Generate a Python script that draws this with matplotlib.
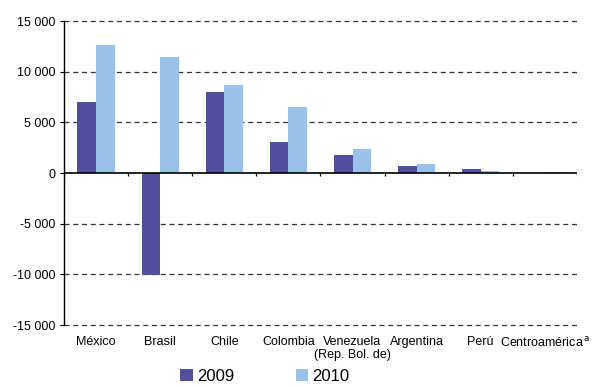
import matplotlib
matplotlib.use("Agg")
import matplotlib.pyplot as plt
import numpy as np

plt.rcParams['font.family'] = ['Liberation Sans', 'DejaVu Sans']

categories = ["México", "Brasil", "Chile", "Colombia", "Venezuela\n(Rep. Bol. de)",
              "Argentina", "Perú", "Centroamérica$^{\\,\\mathrm{a}}$"]
values_2009 = [7000, -10100, 8000, 3050, 1780, 690, 400, 20]
values_2010 = [12650, 11450, 8680, 6500, 2370, 890, 200, 100]
yticks = [-15000, -10000, -5000, 0, 5000, 10000, 15000]
ytick_labels = ["-15 000", "-10 000", "-5 000", "0", "5 000", "10 000", "15 000"]

color_2009 = "#524fa1"
color_2010 = "#99c2e8"

fig = plt.figure(figsize=(6.02, 3.87), dpi=100)
ax = fig.add_axes([0.1063, 0.1602, 0.852, 0.7855])

x = np.arange(len(categories))
w = 0.29
ax.bar(x - w / 2, values_2009, width=w, color=color_2009, label="2009", zorder=3)
ax.bar(x + w / 2, values_2010, width=w, color=color_2010, label="2010", zorder=3)

ax.set_xlim(-0.5, len(categories) - 0.5)
ax.set_ylim(-15000, 15000)
ax.set_yticks(yticks)
ax.set_yticklabels(ytick_labels, fontsize=9)
for y in yticks:
    if y != 0:
        ax.axhline(y, color="#333333", linestyle=(0, (4, 3)), linewidth=0.9,
                   zorder=1, clip_on=False)
ax.axhline(0, color="black", linewidth=1.2, zorder=4)

# category boundary ticks on the zero line
bounds = np.arange(len(categories) + 1) - 0.5
ax.vlines(bounds, -300, 0, color="black", linewidth=0.9, zorder=4)

ax.set_xticks(x)
ax.set_xticklabels(categories, fontsize=9, linespacing=1.1)
ax.tick_params(axis="x", length=0, pad=8)
ax.tick_params(axis="y", length=3, width=0.8, pad=3)

for s in ["top", "right", "bottom"]:
    ax.spines[s].set_visible(False)
ax.spines["left"].set_linewidth(1.0)

fig.legend(loc="lower center", bbox_to_anchor=(0.44, -0.03), ncol=2, frameon=False,
           fontsize=12, handlelength=0.75, handleheight=0.75, handletextpad=0.25,
           columnspacing=3.7)

fig.savefig("out.png", dpi=100)
